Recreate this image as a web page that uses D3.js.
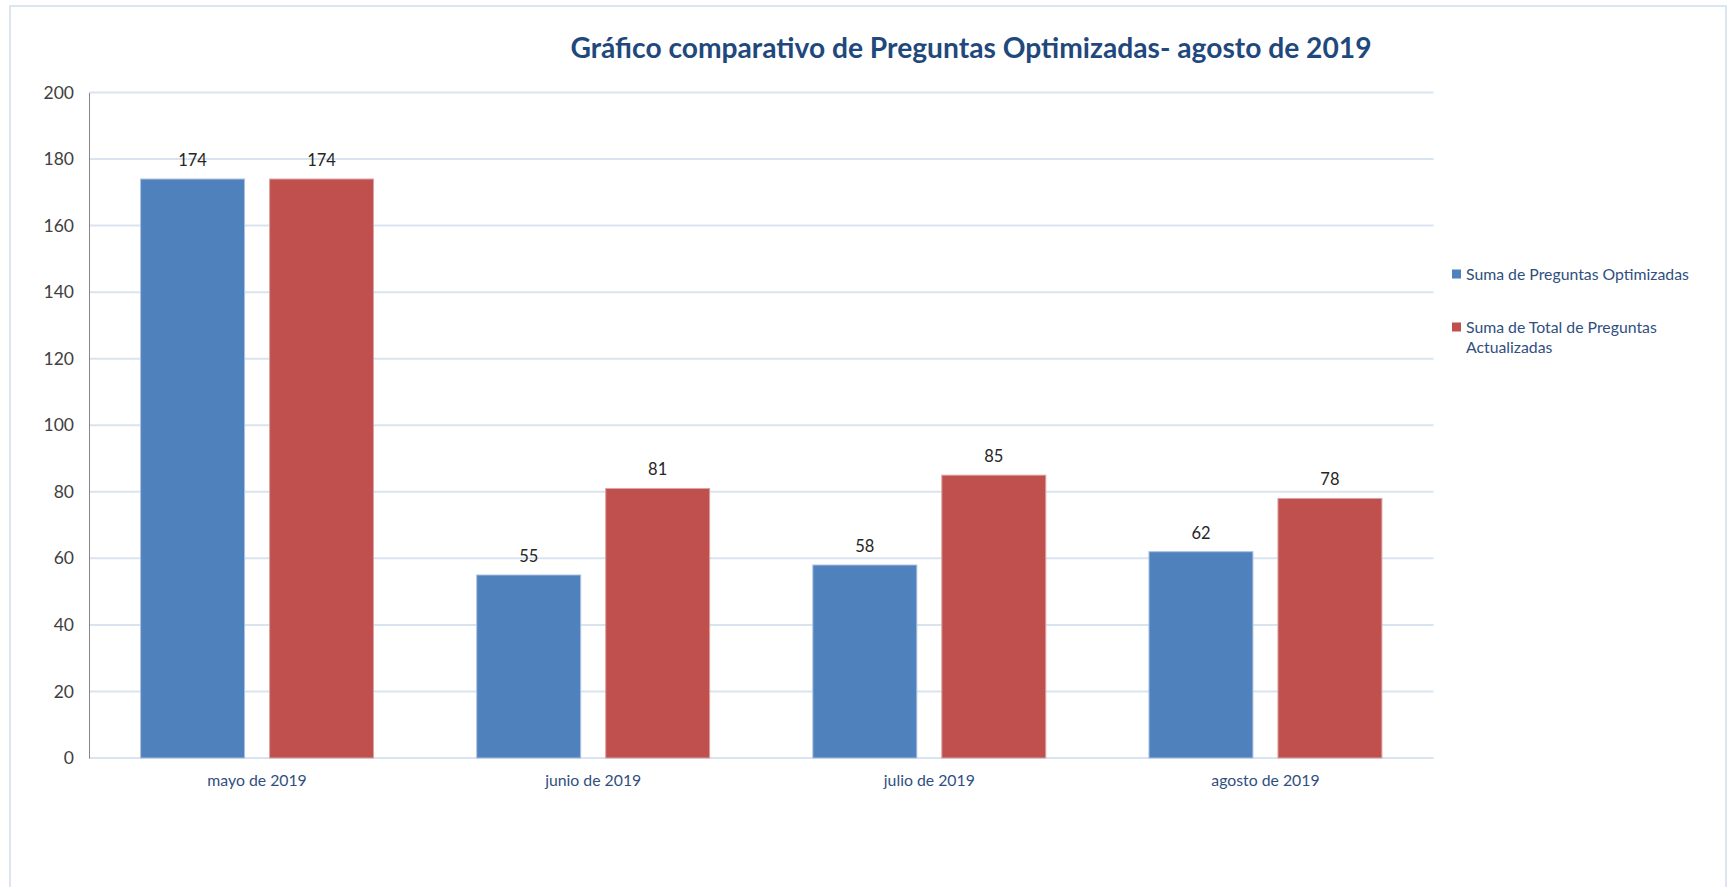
<!DOCTYPE html>
<html>
<head>
<meta charset="utf-8">
<script src="https://cdn.jsdelivr.net/npm/d3@7"></script>
<style>
  html, body { margin: 0; padding: 0; background: #fff; }
  text { font-family: Lato, "Open Sans", sans-serif; }
</style>
</head>
<body>
<div id="chart"></div>
<script>
var categories = ['mayo de 2019', 'junio de 2019', 'julio de 2019', 'agosto de 2019'];
var seriesNames = ['Suma de Preguntas Optimizadas', 'Suma de Total de Preguntas Actualizadas'];
var optimizadas = [174, 55, 58, 62];
var actualizadas = [174, 81, 85, 78];
var yTicks = [0, 20, 40, 60, 80, 100, 120, 140, 160, 180, 200];

(function(d3) {
  'use strict';

  var colors = ['#4f81bd', '#c0504d'];
  var strokes = ['#a9c1df', '#dba3a2'];

  var width = 1728, height = 887;
  var plotLeft = 89, plotRight = 1433.5, plotTop = 92.5, plotBottom = 758;

  var svg = d3.select('#chart').append('svg')
    .attr('width', width)
    .attr('height', height);

  svg.append('rect')
    .attr('x', 10).attr('y', 6)
    .attr('width', 1716).attr('height', 900)
    .attr('fill', '#fff')
    .attr('stroke', '#dce6f2')
    .attr('stroke-width', 2);

  var x0 = d3.scaleBand().domain(categories).range([plotLeft, plotRight]).paddingInner(0.307).paddingOuter(0.1535);
  var x1 = d3.scaleBand().domain([0, 1]).range([0, x0.bandwidth()]).paddingInner(0.194);
  var y = d3.scaleLinear().domain([0, 200]).range([plotBottom, plotTop]);

  // gridlines
  svg.append('g').selectAll('line')
    .data(yTicks)
    .enter().append('line')
    .attr('x1', plotLeft).attr('x2', plotRight)
    .attr('y1', function(d) { return y(d); })
    .attr('y2', function(d) { return y(d); })
    .attr('stroke', '#d9e4f1')
    .attr('stroke-width', 2);

  // y axis
  var yAxis = d3.axisLeft(y).tickValues(yTicks).tickSize(0).tickPadding(15);
  var yg = svg.append('g').attr('transform', 'translate(' + plotLeft + ',0)').call(yAxis);
  yg.select('.domain').attr('stroke', '#868686').attr('stroke-width', 1);
  yg.selectAll('text').attr('font-size', 17.5).attr('fill', '#404040')
    .style('font-family', 'Lato, sans-serif');

  // bars
  var rows = categories.map(function(c, i) {
    return { cat: c, vals: [optimizadas[i], actualizadas[i]] };
  });

  var groups = svg.append('g').selectAll('g')
    .data(rows)
    .enter().append('g')
    .attr('transform', function(d) { return 'translate(' + x0(d.cat) + ',0)'; });

  groups.selectAll('rect')
    .data(function(d) { return d.vals; })
    .enter().append('rect')
    .attr('x', function(d, i) { return x1(i); })
    .attr('width', x1.bandwidth())
    .attr('y', function(d) { return y(d); })
    .attr('height', function(d) { return y(0) - y(d); })
    .attr('fill', function(d, i) { return colors[i]; })
    .attr('stroke', function(d, i) { return strokes[i]; })
    .attr('stroke-width', 1);

  groups.selectAll('text.val')
    .data(function(d) { return d.vals; })
    .enter().append('text')
    .attr('class', 'val')
    .attr('x', function(d, i) { return x1(i) + x1.bandwidth() / 2; })
    .attr('y', function(d) { return y(d) - 13; })
    .attr('text-anchor', 'middle')
    .attr('font-size', 16.5)
    .attr('fill', '#262626')
    .text(function(d) { return d; });

  // x axis labels
  var xAxis = d3.axisBottom(x0).tickSize(0).tickPadding(17);
  var xg = svg.append('g').attr('transform', 'translate(0,' + plotBottom + ')').call(xAxis);
  xg.select('.domain').remove();
  xg.selectAll('text').attr('font-size', 15.8).attr('fill', '#2f4f80')
    .style('font-family', 'Lato, sans-serif');

  // title
  svg.append('text')
    .attr('x', 971).attr('y', 58)
    .attr('text-anchor', 'middle')
    .attr('font-size', 28.2)
    .attr('font-weight', 'bold')
    .attr('fill', '#1f497d')
    .text('Gráfico comparativo de Preguntas Optimizadas- agosto de 2019');

  // legend
  var legendLines = [['Suma de Preguntas Optimizadas'], ['Suma de Total de Preguntas', 'Actualizadas']];
  var legendY = [274, 327];
  var legend = svg.append('g').selectAll('g')
    .data(seriesNames)
    .enter().append('g')
    .attr('transform', function(d, i) { return 'translate(1452,' + legendY[i] + ')'; });

  legend.append('rect')
    .attr('x', 0).attr('y', -4.5)
    .attr('width', 9).attr('height', 9)
    .attr('fill', function(d, i) { return colors[i]; });

  legend.each(function(d, i) {
    var t = d3.select(this).append('text')
      .attr('x', 14)
      .attr('font-size', 15.8)
      .attr('fill', '#2f4f80');
    legendLines[i].forEach(function(line, j) {
      t.append('tspan').attr('x', 14).attr('y', j * 20 + 5.5).text(line);
    });
  });
})(window.d3);
</script>
</body>
</html>
